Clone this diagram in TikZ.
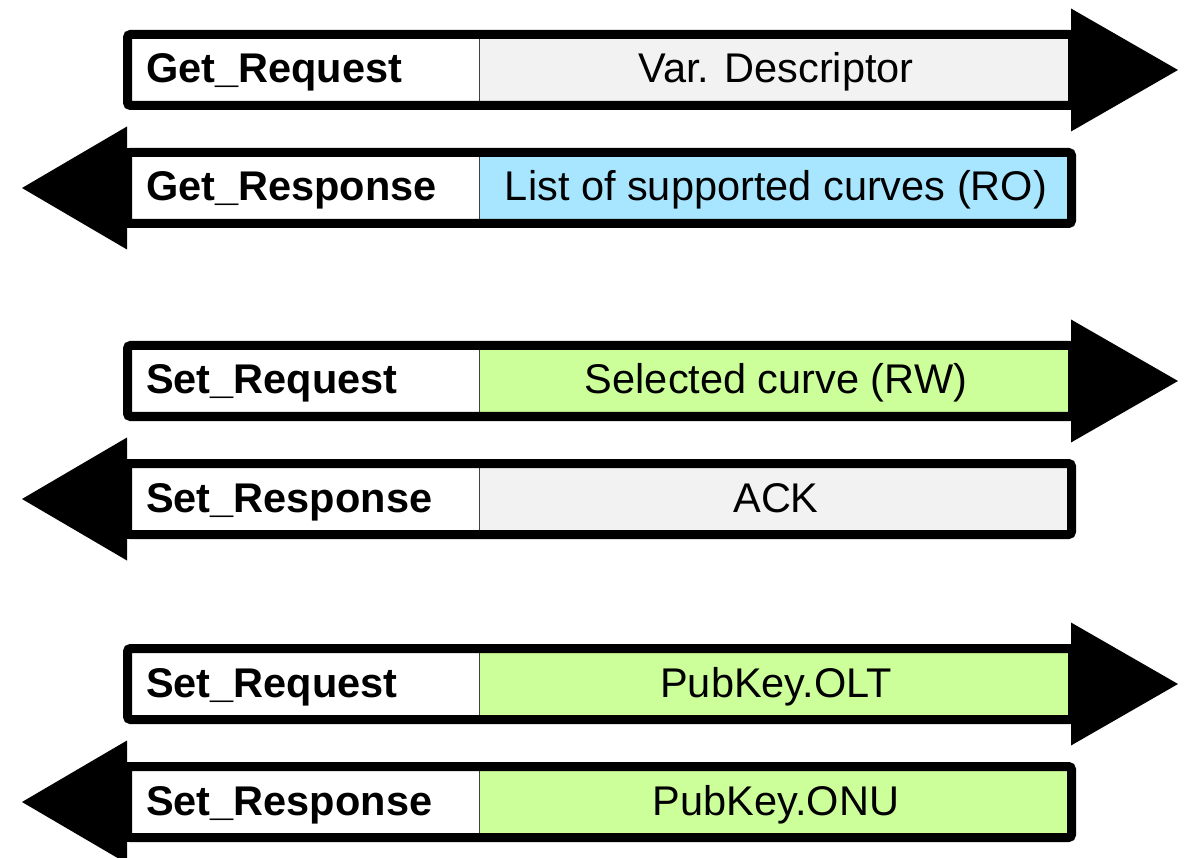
\documentclass[tikz,border=0pt]{standalone}
\usepackage{fontspec}
\setmainfont{Liberation Sans}
\definecolor{cgray}{HTML}{F2F2F2}
\definecolor{cblue}{HTML}{A8E6FF}
\definecolor{cgreen}{HTML}{CCFF99}
\tikzset{
  frame/.style={line width=9pt, rounded corners=3pt, draw=black},
  divider/.style={line width=1pt, draw=black!75},
  head/.style={fill=black, draw=none},
  labeltext/.style={anchor=base west, inner sep=0pt, font=\fontsize{41.5}{49}\selectfont\bfseries},
  valuetext/.style={anchor=base, inner sep=0pt, font=\fontsize{41.5}{49}\selectfont},
}
% #1 name, #2 centre y, #3 label, #4 value, #5 colour
\newcommand\rightmsg[5]{%
  \fill[white] (132,#2-31) rectangle (479,#2+31);
  \fill[#5] (479,#2-31) rectangle (1068,#2+31);
  \draw[divider] (479,#2-31) -- (479,#2+31);
  \draw[frame] (127.5,#2-35.5) rectangle (1072.5,#2+35.5);
  \fill[head] (1071,#2-61.5) -- (1178,#2) -- (1071,#2+61.5) -- cycle;
  \node[labeltext] (#1l) at (146,#2+13) {#3};
  \node[valuetext] (#1v) at (776,#2+13) {#4};
}
\newcommand\leftmsg[5]{%
  \fill[white] (132,#2-31) rectangle (479,#2+31);
  \fill[#5] (479,#2-31) rectangle (1067,#2+31);
  \draw[divider] (479,#2-31) -- (479,#2+31);
  \draw[frame] (127.5,#2-35.5) rectangle (1071.5,#2+35.5);
  \fill[black] (126,#2-40) rectangle (132,#2+40);
  \fill[head] (127,#2-61.5) -- (22,#2) -- (127,#2+61.5) -- cycle;
  \node[labeltext] (#1l) at (146,#2+13) {#3};
  \node[valuetext] (#1v) at (776,#2+13) {#4};
}
\begin{document}
\begin{tikzpicture}[x=1pt,y=-1pt]
  \clip (0,0) rectangle (1186,858);
  \fill[white] (0,0) rectangle (1186,858);
  \rightmsg{getreq}{70}{Get\_Request}{Var. Descriptor}{cgray}
  \leftmsg{getresp}{188}{Get\_Response}{List of supported curves (RO)}{cblue}
  \rightmsg{setreqa}{381}{Set\_Request}{Selected curve (RW)}{cgreen}
  \leftmsg{setrespa}{499}{Set\_Response}{ACK}{cgray}
  \rightmsg{setreqb}{684}{Set\_Request}{PubKey.OLT}{cgreen}
  \leftmsg{setrespb}{802}{Set\_Response}{PubKey.ONU}{cgreen}
\end{tikzpicture}
\end{document}
